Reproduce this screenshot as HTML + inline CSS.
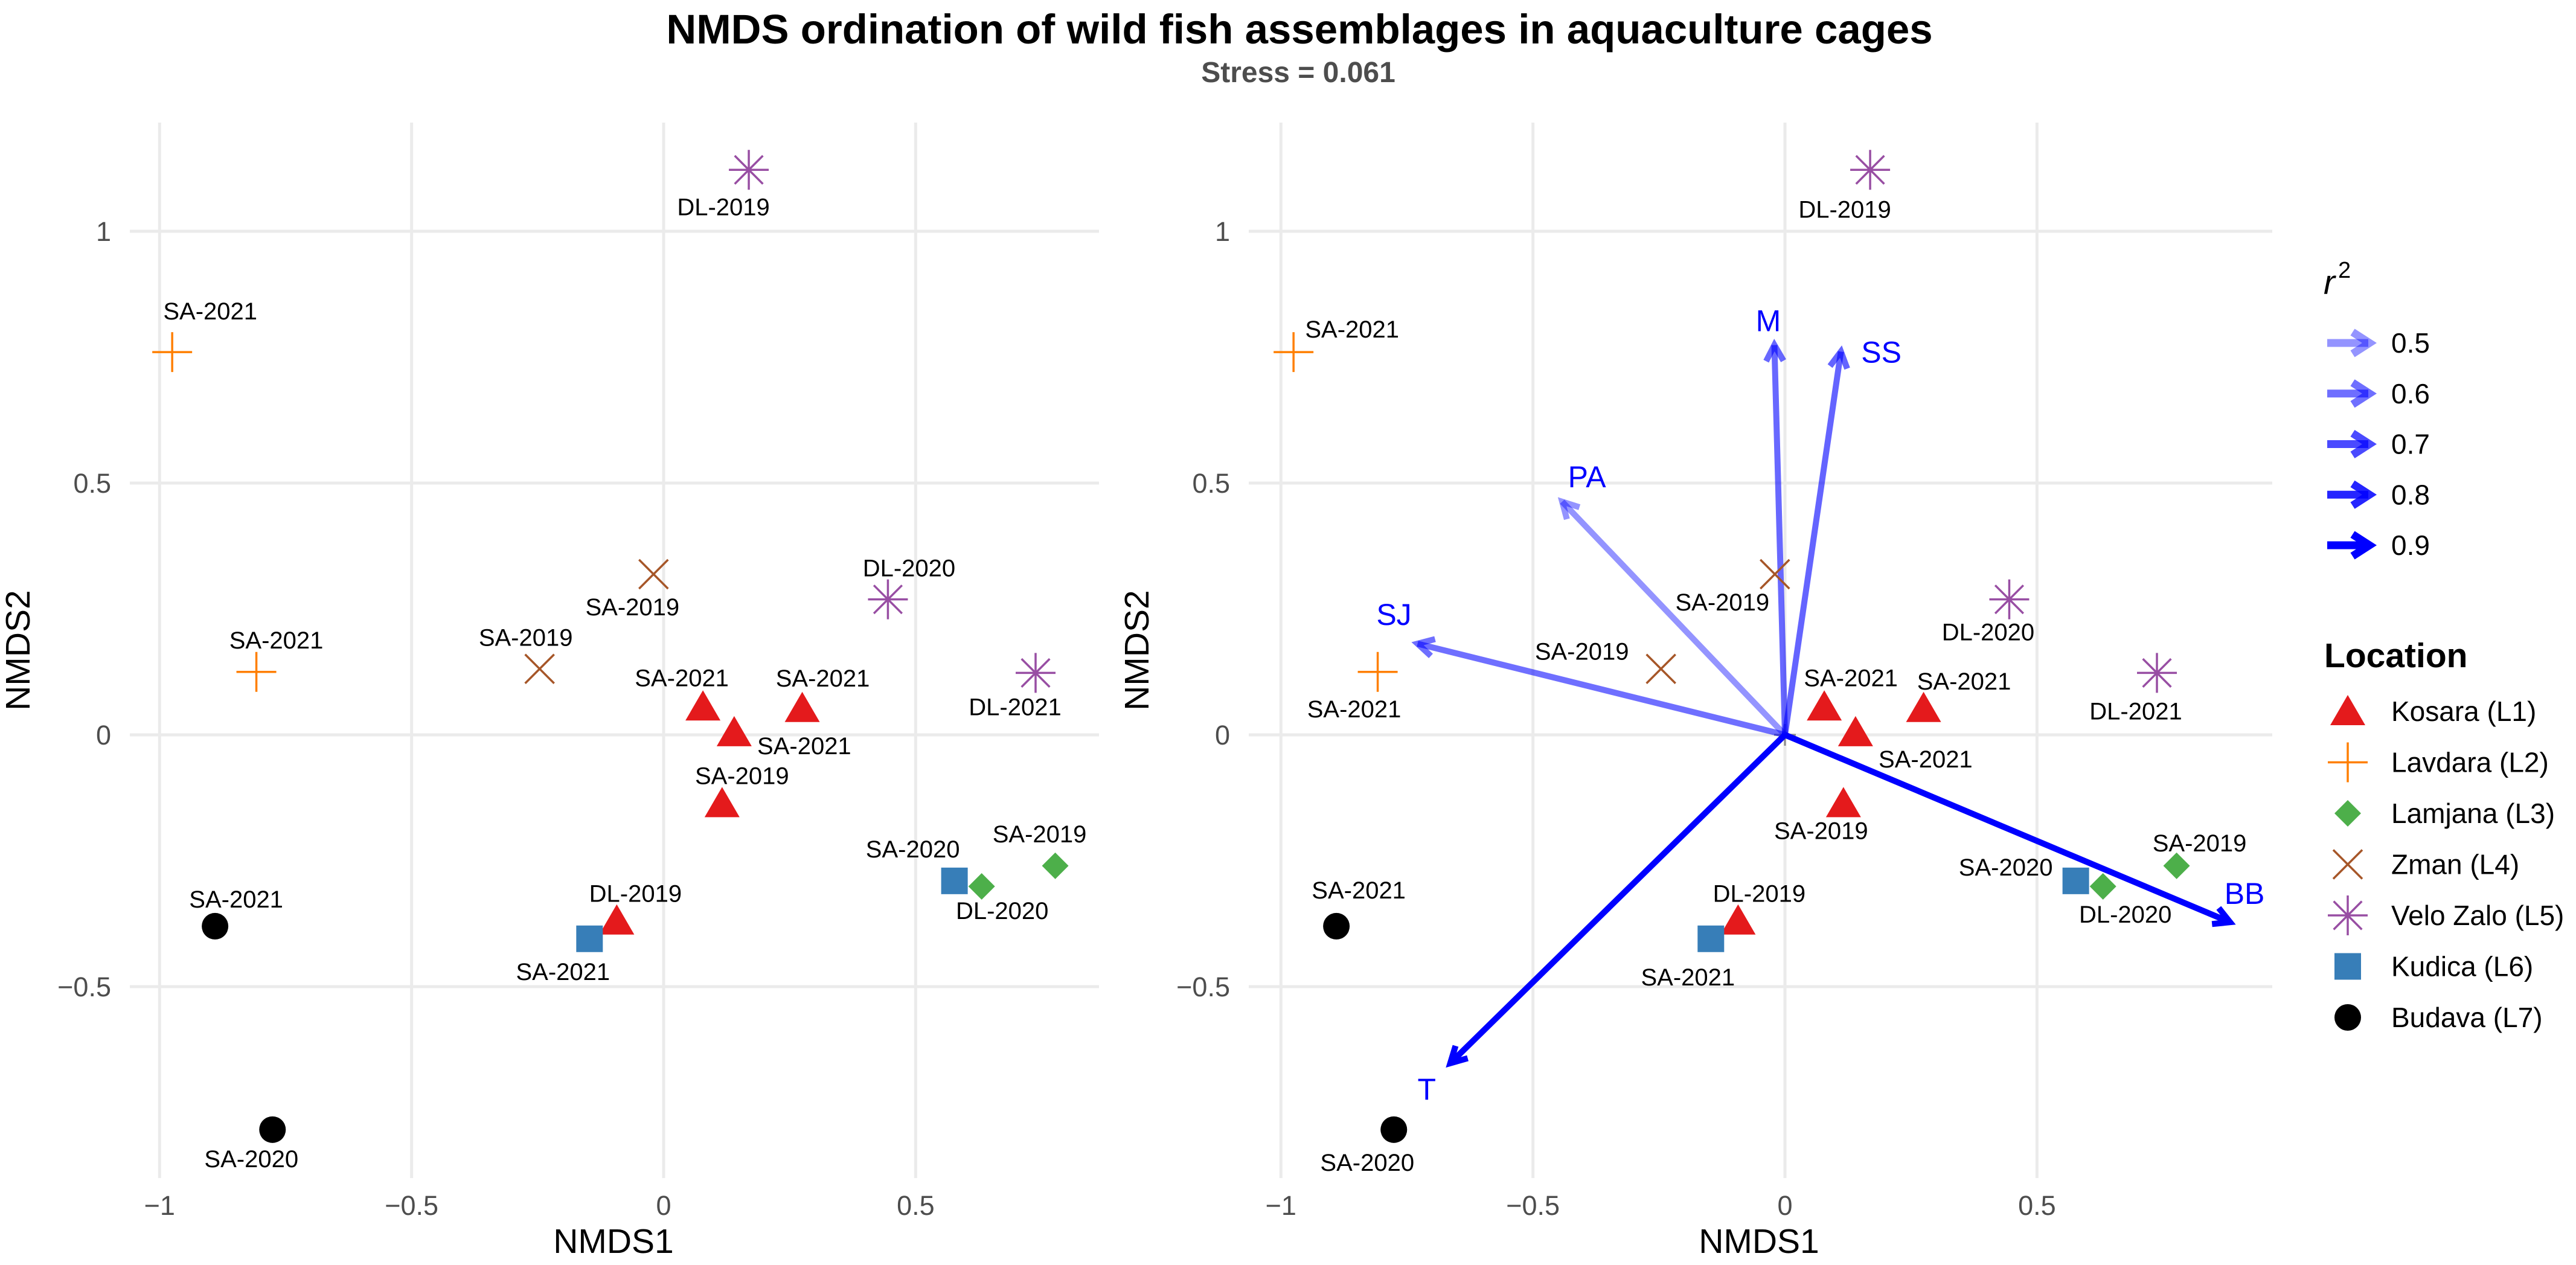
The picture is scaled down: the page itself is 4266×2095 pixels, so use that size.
<!DOCTYPE html>
<html><head><meta charset="utf-8"><style>
html,body{margin:0;padding:0;background:#fff;}
svg{display:block;font-family:"Liberation Sans",Arial,sans-serif;}
</style></head><body>
<svg id="chart" width="4266" height="2095" viewBox="0 0 4266 2095" xmlns="http://www.w3.org/2000/svg">
<rect x="0" y="0" width="4266" height="2095" fill="#fff"/>
<text x="2152" y="72" text-anchor="middle" font-size="69" font-weight="bold" fill="#000">NMDS ordination of wild fish assemblages in aquaculture cages</text>
<text x="2150" y="136" text-anchor="middle" font-size="48" font-weight="bold" fill="#4d4d4d">Stress = 0.061</text>
<g id="left"></g>
<g id="right"></g>
<g id="legend"></g>
</svg>
<script>
const groups = ["Kosara (L1)","Lavdara (L2)","Lamjana (L3)","Zman (L4)","Velo Zalo (L5)","Kudica (L6)","Budava (L7)"];
const groupColors = ["#E41A1C","#FF7F00","#4DAF4A","#A65628","#984EA3","#377EB8","#000000"];
const groupShapes = ["triangle","plus","diamond","x","star","square","circle"];
const pointGroup = [1,1,3,3,4,4,4,0,0,0,0,0,5,5,2,2,6,6];
const pointX = [-0.975,-0.808,-0.02,-0.246,0.169,0.445,0.738,0.078,0.14,0.275,0.116,-0.093,-0.147,0.577,0.631,0.777,-0.89,-0.776];
const pointY = [0.76,0.125,0.319,0.131,1.122,0.269,0.123,0.056,0.005,0.053,-0.136,-0.369,-0.405,-0.29,-0.301,-0.26,-0.38,-0.784];
const pointLabels = ["SA-2021","SA-2021","SA-2019","SA-2019","DL-2019","DL-2020","DL-2021","SA-2021","SA-2021","SA-2021","SA-2019","DL-2019","SA-2021","SA-2020","DL-2020","SA-2019","SA-2021","SA-2020"];
const leftOff = [[63,-68],[33,-53],[-35,54],[-23,-52],[-42,61],[35,-52],[-34,56],[-35,-48],[116,22],[34,-50],[33,-46],[31,-45],[-44,54],[-69,-53],[34,40],[-26,-53],[35,-45],[-35,48]];
const rightOff = [[97,-38],[-39,61],[-87,46],[-131,-29],[-42,65],[-35,54],[-35,63],[44,-48],[116,44],[67,-45],[-37,45],[35,-45],[-38,63],[-116,-23],[37,46],[38,-38],[37,-60],[-44,54]];
const vecNames = ["M","SS","PA","SJ","T","BB"];
const vecX = [-0.021,0.111,-0.442,-0.729,-0.664,0.883];
const vecY = [0.774,0.761,0.463,0.181,-0.652,-0.372];
const vecR2 = [0.62,0.63,0.5,0.6,0.9,0.9];
const vecLabOff = [[-10,-41],[67,0],[41,-42],[-39,-49],[-39,42],[24,-48]];
const xTicks = [-1,-0.5,0,0.5];
const xTickLabels = ["\u22121","\u22120.5","0","0.5"];
const yTicks = [-0.5,0,0.5,1];
const yTickLabels = ["\u22120.5","0","0.5","1"];
const r2Legend = [0.5,0.6,0.7,0.8,0.9];

const NS="http://www.w3.org/2000/svg";
const UX=834.7, UY=834, Y0=1217, TOP=203, BOT=1951;
function mk(tag,attrs,parent){const e=document.createElementNS(NS,tag);for(const k in attrs)e.setAttribute(k,attrs[k]);parent.appendChild(e);return e;}
function alphaFor(r){return Math.min(1,0.42+(r-0.5)/0.4*0.58);}

function shape(g,type,cx,cy,color){
  let e;
  if(type==="triangle"){e=mk("polygon",{points:`${cx-29},${cy+23} ${cx+29},${cy+23} ${cx},${cy-27}`,fill:color},g);}
  else if(type==="square"){e=mk("rect",{x:cx-22,y:cy-22,width:44,height:44,fill:color},g);}
  else if(type==="circle"){e=mk("circle",{cx:cx,cy:cy,r:22,fill:color},g);}
  else if(type==="diamond"){e=mk("polygon",{points:`${cx},${cy-22} ${cx+22},${cy} ${cx},${cy+22} ${cx-22},${cy}`,fill:color},g);}
  else {
    e=mk("g",{stroke:color,"stroke-width":3.5,fill:"none"},g);
    const arms=[];
    if(type==="plus"||type==="star"){arms.push([0,33],[90,33]);}
    if(type==="x"){arms.push([45,34],[135,34]);}
    if(type==="star"){arms.push([45,33],[135,33]);}
    arms.forEach(a=>{const t=a[0]*Math.PI/180,r=a[1];mk("line",{x1:cx-r*Math.cos(t),y1:cy-r*Math.sin(t),x2:cx+r*Math.cos(t),y2:cy+r*Math.sin(t)},e);});
  }
  return e;
}

function panel(gid,x0,xl,xr,yLabX,titleX,nmdsX,offs,vectors){
  const g=document.getElementById(gid);
  const X=v=>x0+UX*v, Y=v=>Y0-UY*v;
  xTicks.forEach((t,i)=>{
    const l=mk("line",{x1:X(t),x2:X(t),y1:TOP,y2:BOT,stroke:"#ebebeb","stroke-width":5},g);
    
    
    const tx=mk("text",{x:X(t),y:2012,"text-anchor":"middle","font-size":45,fill:"#4d4d4d"},g);
    tx.textContent=xTickLabels[i];
    
    
  });
  yTicks.forEach((t,i)=>{
    const l=mk("line",{x1:xl,x2:xr,y1:Y(t),y2:Y(t),stroke:"#ebebeb","stroke-width":5},g);
    
    
    const tx=mk("text",{x:yLabX,y:Y(t)+16,"text-anchor":"end","font-size":45,fill:"#4d4d4d"},g);
    tx.textContent=yTickLabels[i];
    
    
  });
  const xt=mk("text",{x:nmdsX,y:2075,"text-anchor":"middle","font-size":57,fill:"#000"},g);
  xt.textContent="NMDS1";
  
  
  const yt=mk("text",{x:0,y:0,"text-anchor":"middle","font-size":57,fill:"#000",transform:`translate(${titleX},1077) rotate(-90)`},g);
  yt.textContent="NMDS2";
  
  
  if(vectors){
    const ox=X(0), oy=Y(0);
    mk("line",{x1:ox-18,x2:ox+18,y1:oy,y2:oy,stroke:"#888","stroke-width":3},g);
    mk("line",{x1:ox,x2:ox,y1:oy-18,y2:oy+18,stroke:"#888","stroke-width":3},g);
    vecNames.forEach((n,i)=>{
      const tx=X(vecX[i]), ty=Y(vecY[i]);
      const a=alphaFor(vecR2[i]);
      const vg=mk("g",{stroke:"#0000ff","stroke-opacity":a,"stroke-width":10,fill:"none","stroke-linecap":"butt"},g);
      
      
      mk("line",{x1:ox,y1:oy,x2:tx,y2:ty},vg);
      const ang=Math.atan2(ty-oy,tx-ox), hl=30, sp=0.5;
      mk("polyline",{points:`${tx-hl*Math.cos(ang-sp)},${ty-hl*Math.sin(ang-sp)} ${tx},${ty} ${tx-hl*Math.cos(ang+sp)},${ty-hl*Math.sin(ang+sp)}`},vg);
      const lb=mk("text",{x:tx+vecLabOff[i][0],y:ty+vecLabOff[i][1]+18,"text-anchor":"middle","font-size":50,fill:"#0000ff"},g);
      lb.textContent=n;
      
      
    });
  }
  pointX.forEach((v,i)=>{
    const gi=pointGroup[i], cx=X(v), cy=Y(pointY[i]);
    const s=shape(g,groupShapes[gi],cx,cy,groupColors[gi]);
    
    
    const lb=mk("text",{x:cx+offs[i][0],y:cy+offs[i][1]+14,"text-anchor":"middle","font-size":40,fill:"#000"},g);
    lb.textContent=pointLabels[i];
    
    
  });
}
panel("left",1099,215,1820,184,49,1016,leftOff,false);
panel("right",2956,2068,3763,2037,1902,2913,rightOff,true);

const lg=document.getElementById("legend");
const rt=mk("text",{x:3848,y:487,"font-size":57,"font-style":"italic",fill:"#000"},lg);
rt.textContent="r";


const sup=mk("text",{x:3872,y:460,"font-size":38,fill:"#000"},lg);
sup.textContent="2";


r2Legend.forEach((r,i)=>{
  const y=568+i*83.75;
  const a=alphaFor(r);
  const ag=mk("g",{stroke:"#0000ff","stroke-opacity":a,"stroke-width":13,fill:"none"},lg);
  
  
  mk("line",{x1:3854,y1:y,x2:3922,y2:y},ag);
  mk("polyline",{points:`${3896},${y-18} ${3924},${y} ${3896},${y+18}`},ag);
  const t=mk("text",{x:3960,y:y+16,"font-size":46,fill:"#000"},lg);
  t.textContent=r.toFixed(1);
  
  
});
const lt=mk("text",{x:3849,y:1105,"font-size":57,"font-weight":"bold",fill:"#000"},lg);
lt.textContent="Location";


groups.forEach((n,i)=>{
  const y=1178+i*84.5;
  const s=shape(lg,groupShapes[i],3888,y,groupColors[i]);
  
  
  const t=mk("text",{x:3960,y:y+16,"font-size":46,fill:"#000"},lg);
  t.textContent=n;
  
  
});
</script>
</body></html>
